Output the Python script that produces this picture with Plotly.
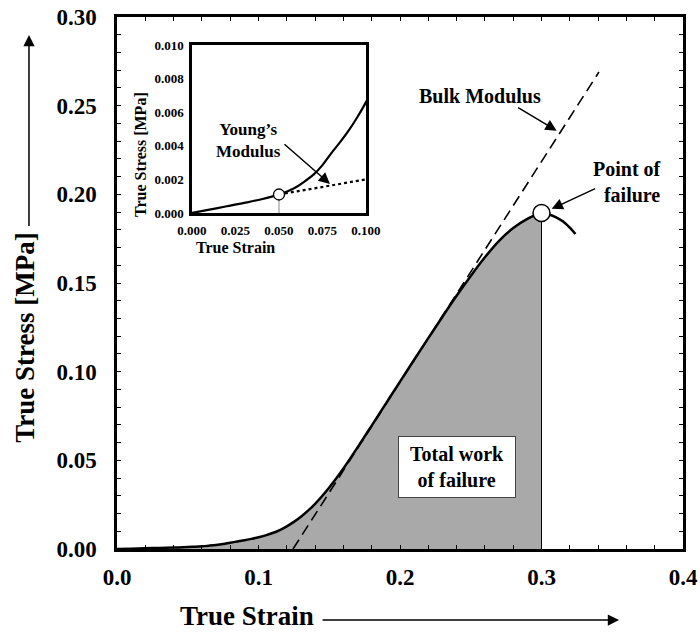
import plotly.graph_objects as go

# ---------------- data ----------------
strain = [0, 0.01, 0.02, 0.03, 0.04, 0.05, 0.055, 0.06, 0.065, 0.07, 0.075, 0.08,
          0.085, 0.09, 0.095, 0.1, 0.105, 0.11, 0.115, 0.12, 0.125, 0.13, 0.135,
          0.14, 0.145, 0.15, 0.155, 0.16, 0.17, 0.18, 0.19, 0.2, 0.21, 0.22, 0.23,
          0.24, 0.25, 0.26, 0.27, 0.28, 0.29, 0.3, 0.305, 0.31, 0.315, 0.32, 0.324]
stress = [0, 0.0002, 0.0004, 0.0006, 0.00082, 0.0011, 0.0013, 0.00155, 0.0019, 0.0023,
          0.00285, 0.00355, 0.0042, 0.0049, 0.0057, 0.0066, 0.0077, 0.0090, 0.0107,
          0.0128, 0.0153, 0.0182, 0.0216, 0.0255, 0.0299, 0.0347, 0.0399, 0.0454,
          0.0573, 0.0696, 0.0820, 0.0944, 0.1067, 0.1189, 0.1310, 0.1428, 0.1540,
          0.1645, 0.1738, 0.1810, 0.1862, 0.1895, 0.1888, 0.1872, 0.1848, 0.1812, 0.1776]
failure_point = (0.30, 0.1895)
bulk_x = [0.1244, 0.3406]
bulk_y = [0.0, 0.269]
young_point = (0.05, 0.0011)
young_x = [0.05, 0.10]
young_y = [0.0011, 0.0020]
main_x_ticks = [0.0, 0.1, 0.2, 0.3, 0.4]
main_y_ticks = [0.00, 0.05, 0.10, 0.15, 0.20, 0.25, 0.30]
inset_x_ticks = [0.000, 0.025, 0.050, 0.075, 0.100]
inset_y_ticks = [0.000, 0.002, 0.004, 0.006, 0.008, 0.010]

FONT = "Liberation Serif"
GRAY = "#a9a9a9"

fill_x = [s for s in strain if s <= failure_point[0]]
fill_y = stress[:len(fill_x)]

fig = go.Figure()
# shaded work of failure
fig.add_trace(go.Scatter(x=fill_x, y=fill_y, mode="lines", fill="tozeroy",
                         fillcolor=GRAY, line=dict(width=0, shape="spline"),
                         hoverinfo="skip"))
# vertical line at failure
fig.add_trace(go.Scatter(x=[failure_point[0], failure_point[0]], y=[0, failure_point[1]],
                         mode="lines", line=dict(color="black", width=1)))
# bulk modulus tangent
fig.add_trace(go.Scatter(x=bulk_x, y=bulk_y, mode="lines",
                         line=dict(color="black", width=1.6, dash="11px,6px")))
# stress-strain curve
fig.add_trace(go.Scatter(x=strain, y=stress, mode="lines",
                         line=dict(color="black", width=2.5, shape="spline")))
# failure point
fig.add_trace(go.Scatter(x=[failure_point[0]], y=[failure_point[1]], mode="markers",
                         marker=dict(size=17, color="white",
                                     line=dict(color="black", width=1.5))))

# ---------- inset ----------
fig.add_trace(go.Scatter(x=[young_point[0], young_point[0]], y=[0, young_point[1]],
                         mode="lines", line=dict(color="#888888", width=1),
                         xaxis="x2", yaxis="y2"))
fig.add_trace(go.Scatter(x=young_x, y=young_y, mode="lines",
                         line=dict(color="black", width=2.2, dash="dot"),
                         xaxis="x2", yaxis="y2"))
fig.add_trace(go.Scatter(x=strain, y=stress, mode="lines",
                         line=dict(color="black", width=2.2, shape="spline"),
                         xaxis="x2", yaxis="y2"))
fig.add_trace(go.Scatter(x=[young_point[0]], y=[young_point[1]], mode="markers",
                         marker=dict(size=11, color="white",
                                     line=dict(color="black", width=1.3)),
                         xaxis="x2", yaxis="y2"))

tickfont_main = dict(family=FONT, size=23, color="black", weight="bold")
tickfont_inset = dict(family=FONT, size=13, color="black", weight="bold")

fig.update_layout(
    width=700, height=633,
    margin=dict(l=117, r=17, t=17, b=84),
    paper_bgcolor="white", plot_bgcolor="white",
    showlegend=False,
    xaxis=dict(range=[0, 0.4], tickvals=main_x_ticks, tickformat=".1f",
               automargin=False,
               showgrid=False, zeroline=False, showline=True, linecolor="black",
               linewidth=2.5, mirror="allticks", ticks="inside", ticklen=4,
               tickcolor="black", tickwidth=1, tickfont=tickfont_main,
               ticklabelstandoff=6,
               minor=dict(dtick=0.02, ticks="inside", ticklen=4,
                          tickcolor="black", tickwidth=1, showgrid=False)),
    yaxis=dict(range=[0, 0.30], tickvals=main_y_ticks, tickformat=".2f",
               automargin=False,
               showgrid=False, zeroline=False, showline=True, linecolor="black",
               linewidth=2.5, mirror="allticks", ticks="inside", ticklen=4,
               tickcolor="black", tickwidth=1, tickfont=tickfont_main,
               ticklabelstandoff=13,
               minor=dict(dtick=0.01, ticks="inside", ticklen=4,
                          tickcolor="black", tickwidth=1, showgrid=False)),
    xaxis2=dict(domain=[0.1325, 0.4399], anchor="y2", range=[0, 0.1],
                automargin=False,
                tickvals=inset_x_ticks, tickformat=".3f", showgrid=False,
                zeroline=False, showline=True, linecolor="black", linewidth=2.5,
                mirror=True, ticks="", tickfont=tickfont_inset,
                ticklabelstandoff=4),
    yaxis2=dict(domain=[0.6316, 0.9474], anchor="x2", range=[0, 0.010],
                automargin=False,
                tickvals=inset_y_ticks, tickformat=".3f", showgrid=False,
                zeroline=False, showline=True, linecolor="black", linewidth=2.5,
                mirror=True, ticks="", tickfont=tickfont_inset,
                ticklabelstandoff=3),
)

lab = dict(family=FONT, color="black", weight="bold")
arrow = dict(showarrow=True, arrowhead=2, arrowsize=1.5, arrowwidth=1.5,
             arrowcolor="black", font=dict(size=1), text=" ")
C = dict(xanchor="center", yanchor="middle")
annotations = [
    # axis titles
    dict(text="True Strain", xref="paper", yref="paper", x=0.2297, y=-0.1260,
         showarrow=False, font=dict(size=27, **lab), **C),
    dict(xref="paper", yref="paper", x=0.887, y=-0.1335, ax=-298, ay=0, **arrow),
    dict(text="True Stress [MPa]", xref="paper", yref="paper", x=-0.163, y=0.3966,
         textangle=-90, showarrow=False, font=dict(size=27, **lab), **C),
    dict(xref="paper", yref="paper", x=-0.1555, y=0.9662, ax=0, ay=193, **arrow),
    # inset titles
    dict(text="True Strain", xref="paper", yref="paper", x=0.2102, y=0.5658,
         showarrow=False, font=dict(size=16, **lab), **C),
    dict(text="True Stress [MPa]", xref="paper", yref="paper", x=0.0424, y=0.7425,
         textangle=-90, showarrow=False, font=dict(size=16, **lab), **C),
    # labels
    dict(text="Bulk Modulus", xref="x", yref="y", x=0.2565, y=0.2555,
         showarrow=False, font=dict(size=20, **lab), **C),
    dict(xref="x", yref="y", x=0.3107, y=0.2359, ax=-40, ay=-24, **arrow),
    dict(text="Point of<br>failure", xref="x", yref="y", x=0.3859, y=0.207,
         xanchor="right", yanchor="middle", align="right", showarrow=False,
         font=dict(size=20, **lab)),
    dict(xref="x", yref="y", x=0.3072, y=0.1918, ax=45, ay=-21, **arrow),
    dict(text="Young\u2019s<br>Modulus", xref="x2", yref="y2", x=0.0322, y=0.0043,
         showarrow=False, font=dict(size=17, **lab), **C),
    dict(xref="x2", yref="y2", x=0.0793, y=0.00173, ax=-47, ay=-41, **arrow),
    dict(text="Total work<br>of failure", xref="x", yref="y", x=0.2406, y=0.0464,
         showarrow=False, bgcolor="white", bordercolor="#444444", borderwidth=1,
         borderpad=5, width=106, height=50, font=dict(size=20, **lab), **C),
]
fig.update_layout(annotations=annotations)

fig.write_html("out.html")
